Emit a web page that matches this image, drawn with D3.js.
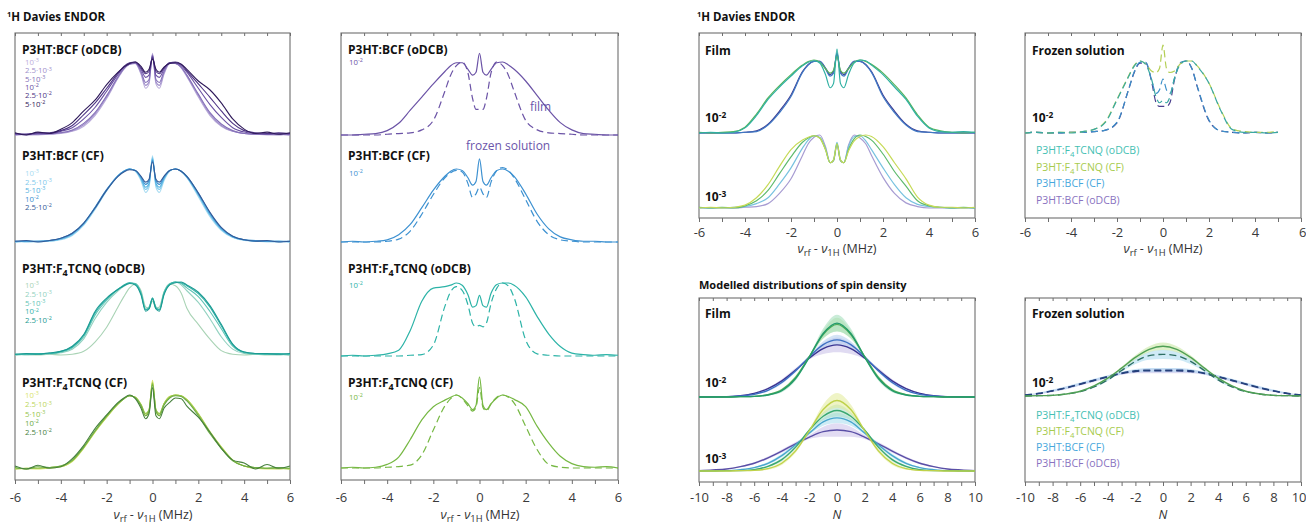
<!DOCTYPE html>
<html><head><meta charset="utf-8">
<script src="https://cdn.jsdelivr.net/npm/d3@7"></script>
<style>body{margin:0;background:#fff}svg{display:block}text{font-family:"Open Sans",sans-serif}</style>
</head><body><svg id="c" width="1306" height="525"></svg>
<script>
// ---------- DATA ----------
const xGrid = [-6,-5.5,-5,-4.5,-4,-3.5,-3,-2.5,-2,-1.5,-1.25,-1,-0.75,-0.5,-0.3,-0.15,0,0.15,0.3,0.5,0.75,1,1.25,1.5,2,2.5,3,3.5,4,4.5,5,5.5,6];
const nGrid = [-10,-9,-8,-7,-6,-5,-4,-3,-2,-1,0,1,2,3,4,5,6,7,8,9,10];
const concLabels = [["10","-3"],["2.5·10","-3"],["5·10","-3"],["10","-2"],["2.5·10","-2"],["5·10","-2"]];

// P3HT:BCF (oDCB), film, concentration series
const bcfO_1e3  = [0,0.01,0,0.01,0.02,0.05,0.12,0.27,0.50, 0.78,0.90,0.97,0.98,0.83,0.64,0.70,1.12,0.70,0.64,0.83,0.98,0.98,0.92,0.80, 0.52,0.27,0.12,0.05,0.02,0.01,0,0.01,0];
const bcfO_25e3 = [0.01,0,0.01,0.01,0.03,0.06,0.14,0.29,0.52, 0.79,0.91,0.97,0.98,0.85,0.68,0.73,1.10,0.73,0.68,0.85,0.98,0.98,0.93,0.81, 0.54,0.29,0.13,0.05,0.02,0.01,0.01,0,0.01];
const bcfO_5e3  = [0,0.01,0.01,0.02,0.03,0.07,0.16,0.31,0.54, 0.80,0.91,0.97,0.99,0.87,0.72,0.76,1.10,0.76,0.72,0.87,0.99,0.98,0.93,0.82, 0.56,0.31,0.15,0.06,0.02,0.01,0.01,0.01,0];
const bcfO_1e2  = [0.01,0.01,0.02,0.02,0.05,0.10,0.22,0.38,0.60, 0.83,0.93,0.98,0.99,0.90,0.79,0.82,1.08,0.82,0.79,0.90,0.99,0.99,0.95,0.86, 0.64,0.42,0.24,0.10,0.04,0.02,0.01,0.02,0.01];
const bcfO_25e2 = [0.02,0.01,0.03,0.03,0.06,0.13,0.28,0.44,0.64, 0.85,0.94,0.99,1.00,0.92,0.84,0.87,1.06,0.87,0.84,0.92,0.99,1.00,0.97,0.88, 0.70,0.52,0.33,0.16,0.06,0.03,0.02,0.03,0.02];
const bcfO_5e2  = [0.03,0,0.04,0.02,0.08,0.17,0.33,0.48,0.69, 0.86,0.93,0.98,1.00,0.94,0.86,0.90,1.04,0.90,0.86,0.93,0.98,0.99,0.97,0.90, 0.74,0.62,0.44,0.22,0.08,0.02,0.04,0.01,0.03];
// P3HT:BCF (CF)
const bcfC_1e3  = [0,0.01,0,0.01,0.03,0.09,0.23,0.45,0.70, 0.91,0.97,1.00,0.97,0.84,0.68,0.75,1.18,0.75,0.68,0.84,0.97,1.00,0.97,0.88, 0.62,0.35,0.16,0.06,0.02,0.01,0,0.01,0];
const bcfC_25e3 = [0.01,0,0.01,0.01,0.04,0.10,0.24,0.46,0.71, 0.91,0.97,1.00,0.98,0.86,0.72,0.78,1.16,0.78,0.72,0.86,0.98,1.00,0.97,0.89, 0.64,0.37,0.17,0.07,0.03,0.01,0.01,0,0.01];
const bcfC_5e3  = [0,0.01,0.01,0.02,0.04,0.11,0.25,0.47,0.71, 0.91,0.97,1.00,0.98,0.87,0.75,0.80,1.14,0.80,0.75,0.87,0.98,1.00,0.97,0.89, 0.65,0.38,0.18,0.07,0.03,0.01,0.01,0.01,0];
const bcfC_1e2  = [0.01,0.01,0.01,0.02,0.05,0.12,0.26,0.48,0.72, 0.91,0.97,1.00,0.98,0.89,0.79,0.84,1.12,0.84,0.79,0.89,0.98,1.00,0.97,0.90, 0.67,0.40,0.19,0.08,0.03,0.02,0.01,0.01,0.01];
const bcfC_25e2 = [0.01,0.02,0,0.02,0.05,0.12,0.26,0.47,0.71, 0.90,0.96,0.99,0.98,0.90,0.82,0.86,1.10,0.86,0.82,0.90,0.98,1.00,0.97,0.90, 0.67,0.41,0.20,0.08,0.03,0.01,0.02,0,0.01];
// P3HT:F4TCNQ (oDCB)
const f4O_1e3  = [0,0.01,0,0.01,0,0.01,0.05,0.18,0.38, 0.66,0.80,0.92,0.97,0.88,0.66,0.64,0.74,0.64,0.66,0.86,0.97,0.95,0.85,0.64, 0.42,0.22,0.06,0.01,0,0.01,0,0.01,0];
const f4O_25e3 = [0.01,0,0.01,0.01,0.03,0.08,0.22,0.50,0.72, 0.88,0.94,0.98,0.98,0.86,0.64,0.66,0.76,0.66,0.64,0.86,0.98,1.00,0.96,0.88, 0.72,0.50,0.25,0.08,0.02,0.01,0.01,0,0.01];
const f4O_5e3  = [0,0.01,0.01,0.02,0.04,0.10,0.25,0.55,0.75, 0.90,0.95,0.99,0.98,0.85,0.62,0.65,0.78,0.65,0.62,0.85,0.97,1.00,0.98,0.92, 0.80,0.60,0.36,0.12,0.03,0.01,0.01,0.01,0];
const f4O_1e2  = [0.01,0.01,0.02,0.02,0.05,0.11,0.27,0.58,0.77, 0.90,0.96,0.99,0.97,0.84,0.62,0.64,0.78,0.64,0.62,0.84,0.97,1.00,0.99,0.95, 0.84,0.66,0.40,0.14,0.04,0.02,0.01,0.02,0.01];
const f4O_25e2 = [0.01,0.02,0.01,0.03,0.05,0.12,0.28,0.60,0.78, 0.90,0.95,0.98,0.96,0.82,0.60,0.63,0.77,0.63,0.60,0.82,0.96,0.99,1.00,0.96, 0.86,0.68,0.42,0.15,0.04,0.02,0.02,0.01,0.02];
// P3HT:F4TCNQ (CF)
const f4C_1e3  = [0,0.01,0,0.01,0.03,0.10,0.28,0.50,0.70, 0.88,0.95,0.99,0.97,0.86,0.72,0.78,1.20,0.78,0.72,0.88,0.98,1.00,0.99,0.94, 0.74,0.50,0.30,0.12,0.04,0.01,0,0.01,0];
const f4C_25e3 = [0.01,0,0.01,0.02,0.03,0.11,0.29,0.51,0.70, 0.88,0.95,0.99,0.97,0.87,0.74,0.80,1.18,0.80,0.74,0.88,0.98,1.00,0.99,0.94, 0.75,0.51,0.30,0.12,0.04,0.01,0.01,0,0.01];
const f4C_5e3  = [0,0.01,0.01,0.02,0.04,0.11,0.29,0.51,0.71, 0.88,0.95,0.99,0.97,0.87,0.75,0.80,1.16,0.80,0.75,0.88,0.97,1.00,0.99,0.93, 0.74,0.50,0.29,0.12,0.04,0.02,0.01,0.01,0];
const f4C_1e2  = [0.02,0,0.03,0.02,0.04,0.12,0.30,0.52,0.72, 0.89,0.95,0.99,0.96,0.85,0.72,0.78,1.14,0.78,0.72,0.86,0.96,0.99,0.98,0.92, 0.72,0.48,0.28,0.11,0.04,0.02,0.01,0.02,0.01];
const f4C_25e2 = [0.04,0,0.05,0.01,0.03,0.14,0.32,0.55,0.73, 0.90,0.96,1.00,0.95,0.82,0.68,0.75,1.10,0.72,0.68,0.82,0.90,0.96,0.95,0.85, 0.70,0.50,0.28,0.12,0.08,0,0.06,0.01,0.04];

// Film vs frozen solution at 1e-2
const bcfO_film = [0,0,0.01,0.02,0.06,0.16,0.34,0.52,0.70, 0.87,0.95,0.99,0.99,0.90,0.82,0.86,1.12,0.86,0.82,0.90,0.99,1.00,0.96,0.90, 0.74,0.54,0.34,0.17,0.07,0.02,0.01,0,0];
const bcfO_froz = [0,0,0,0,0.01,0.02,0.03,0.07,0.20, 0.60,0.82,0.95,1.00,0.85,0.50,0.35,0.35,0.35,0.50,0.85,1.00,0.95,0.82,0.60, 0.20,0.07,0.03,0.02,0.01,0,0,0,0];
const bcfC_film = [0,0.01,0,0.01,0.03,0.10,0.24,0.47,0.71, 0.90,0.97,1.00,0.98,0.88,0.78,0.83,1.14,0.83,0.78,0.88,0.98,1.00,0.97,0.90, 0.66,0.38,0.18,0.07,0.03,0.01,0.01,0,0];
const bcfC_froz = [0,0,0,0,0.01,0.04,0.15,0.38,0.65, 0.88,0.95,0.98,0.96,0.80,0.61,0.66,0.75,0.66,0.61,0.82,0.98,1.02,0.98,0.88, 0.58,0.28,0.10,0.03,0.01,0,0,0,0];
const f4O_film  = [0,0.01,0,0.01,0.03,0.08,0.35,0.75,0.93, 0.95,0.97,1.00,0.97,0.84,0.67,0.69,0.83,0.69,0.67,0.86,0.98,1.00,1.00,0.97, 0.81,0.54,0.30,0.13,0.04,0.02,0.01,0.02,0.01];
const f4O_froz  = [0,0,0,0,0,0,0.01,0.02,0.15, 0.68,0.88,0.95,0.90,0.70,0.45,0.40,0.42,0.40,0.45,0.72,0.93,1.00,0.96,0.80, 0.22,0.03,0.01,0,0,0,0,0,0];
const f4C_film  = [0,0.01,0,0.01,0.05,0.15,0.39,0.66,0.84, 0.93,0.97,1.00,0.96,0.88,0.80,0.86,1.25,0.86,0.80,0.88,0.96,1.00,0.98,0.94, 0.84,0.57,0.34,0.16,0.06,0.02,0.01,0.02,0];
const f4C_froz  = [0,0,0,0,0.01,0.02,0.04,0.18,0.52, 0.85,0.95,1.00,0.95,0.85,0.78,0.83,1.10,0.83,0.78,0.88,0.97,1.00,0.97,0.89, 0.57,0.25,0.05,0.01,0,0,0,0,0];

// Right: film comparison, 1e-2 and 1e-3
const film2_F4O = [0,0.01,0,0.01,0.07,0.24,0.46,0.63,0.78, 0.92,0.97,0.99,0.96,0.80,0.62,0.68,1.15,0.68,0.62,0.80,0.96,1.00,0.99,0.93, 0.80,0.63,0.46,0.23,0.07,0.02,0.01,0.02,0.01];
const film2_F4C = [0.01,0,0.01,0.02,0.08,0.26,0.48,0.65,0.80, 0.93,0.98,1.00,0.97,0.88,0.82,0.86,1.05,0.86,0.82,0.88,0.97,1.00,0.98,0.94, 0.82,0.66,0.48,0.25,0.08,0.03,0.01,0,0.01];
const film2_BC  = [0,0,0,0,0.01,0.02,0.11,0.28,0.50, 0.83,0.93,0.98,0.98,0.88,0.78,0.82,1.10,0.82,0.78,0.88,0.98,0.98,0.93,0.83, 0.50,0.28,0.11,0.02,0.01,0,0,0,0];
const film2_BO  = [0,0,0,0,0.01,0.03,0.12,0.30,0.52, 0.84,0.94,0.98,0.98,0.89,0.80,0.84,1.08,0.84,0.80,0.89,0.98,0.98,0.94,0.84, 0.52,0.30,0.12,0.03,0.01,0,0,0,0];
const film3_F4C = [0,0.01,0,0.01,0.04,0.14,0.32,0.57,0.80, 0.93,0.97,0.99,0.96,0.80,0.62,0.66,0.88,0.66,0.62,0.78,0.92,0.98,1.00,0.98, 0.84,0.62,0.40,0.15,0.04,0.01,0.01,0,0.01];
const film3_F4O = [0.01,0,0.01,0,0.03,0.10,0.24,0.47,0.70, 0.90,0.96,0.99,0.96,0.80,0.62,0.65,0.88,0.65,0.62,0.80,0.95,1.00,0.98,0.93, 0.74,0.50,0.30,0.10,0.03,0.01,0,0.01,0];
const film3_BC  = [0,0,0,0.01,0.02,0.06,0.14,0.33,0.55, 0.82,0.93,0.99,0.97,0.82,0.62,0.66,0.90,0.66,0.62,0.84,0.98,0.99,0.92,0.80, 0.55,0.32,0.14,0.05,0.02,0.01,0,0,0];
const film3_BO  = [0,0,0,0,0.01,0.02,0.06,0.20,0.40, 0.72,0.88,0.97,1.00,0.84,0.62,0.65,0.86,0.65,0.62,0.86,1.00,0.96,0.88,0.72, 0.42,0.20,0.07,0.02,0,0,0,0,0];
// Right: frozen solution 1e-2 (recorded up to ~5 MHz)
const froz_F4O = [0,0.01,0,0.01,0,0.02,0.05,0.15,0.46, 0.78,0.93,1.00,0.95,0.75,0.50,0.42,0.45,0.42,0.50,0.76,0.95,1.00,1.00,0.92, 0.69,0.32,0.05,0.01,0.01,0,0.01];
const froz_F4C = [0,0.01,0,0.01,0.01,0.02,0.05,0.16,0.47, 0.79,0.94,1.00,0.96,0.86,0.84,0.90,1.22,0.90,0.84,0.86,0.96,1.00,1.00,0.93, 0.69,0.33,0.06,0.02,0.01,0.01,0.02];
const froz_BC  = [0,0.01,0,0,0.01,0.01,0.02,0.04,0.15, 0.60,0.85,0.98,0.98,0.74,0.55,0.60,0.75,0.60,0.55,0.76,0.98,1.00,0.90,0.64, 0.18,0.03,0.01,0,0.01,0,0.01];
const froz_BO  = [0,0.01,0,0,0.01,0.01,0.02,0.04,0.14, 0.60,0.84,0.97,0.97,0.72,0.42,0.37,0.37,0.37,0.42,0.74,0.97,1.00,0.90,0.63, 0.17,0.03,0.01,0,0.01,0,0.01];

// Modelled spin density, film 1e-2 (value, band half-width)
const m2_F4O = [0,0,0,0.001,0.002,0.006,0.019,0.055,0.119,0.189,0.220,0.189,0.119,0.055,0.019,0.006,0.002,0.001,0,0,0];
const m2_F4C = [0,0,0,0.001,0.002,0.007,0.021,0.058,0.121,0.186,0.216,0.186,0.121,0.058,0.021,0.007,0.002,0.001,0,0,0];
const m2_BC  = [0,0,0.001,0.003,0.008,0.020,0.043,0.078,0.120,0.156,0.170,0.156,0.120,0.078,0.043,0.020,0.008,0.003,0.001,0,0];
const m2_BO  = [0,0.001,0.001,0.004,0.011,0.025,0.048,0.080,0.116,0.144,0.155,0.144,0.116,0.080,0.048,0.025,0.011,0.004,0.001,0.001,0];
const b2_F4O = [0,0,0,0,0.001,0.002,0.005,0.007,0.004,0.015,0.025,0.015,0.004,0.007,0.005,0.002,0.001,0,0,0,0];
const b2_F4C = [0,0,0,0,0.001,0.002,0.004,0.006,0.003,0.012,0.020,0.012,0.003,0.006,0.004,0.002,0.001,0,0,0,0];
const b2_BC  = [0,0,0,0.001,0.002,0.003,0.004,0.004,0.003,0.010,0.015,0.010,0.003,0.004,0.004,0.003,0.002,0.001,0,0,0];
const b2_BO  = [0,0,0.001,0.001,0.002,0.003,0.005,0.006,0.004,0.016,0.022,0.016,0.004,0.006,0.005,0.003,0.002,0.001,0.001,0,0];
// film 1e-3
const m3_F4C = [0,0,0,0.001,0.002,0.007,0.023,0.060,0.120,0.183,0.210,0.183,0.120,0.060,0.023,0.007,0.002,0.001,0,0,0];
const m3_F4O = [0,0,0.001,0.001,0.004,0.014,0.034,0.071,0.122,0.163,0.180,0.163,0.122,0.071,0.034,0.014,0.004,0.001,0.001,0,0];
const m3_BC  = [0,0.001,0.001,0.004,0.010,0.023,0.046,0.078,0.113,0.146,0.158,0.146,0.113,0.078,0.046,0.023,0.010,0.004,0.001,0.001,0];
const m3_BO  = [0.001,0.003,0.006,0.013,0.023,0.039,0.059,0.081,0.101,0.117,0.122,0.117,0.101,0.081,0.059,0.039,0.023,0.013,0.006,0.003,0.001];
const b3_F4C = [0,0,0,0,0.001,0.003,0.005,0.006,0.004,0.015,0.022,0.015,0.004,0.006,0.005,0.003,0.001,0,0,0,0];
const b3_F4O = [0,0,0,0.001,0.002,0.003,0.005,0.005,0.004,0.012,0.018,0.012,0.004,0.005,0.005,0.003,0.002,0.001,0,0,0];
const b3_BC  = [0,0,0.001,0.001,0.002,0.004,0.005,0.005,0.004,0.011,0.015,0.011,0.004,0.005,0.005,0.004,0.002,0.001,0.001,0,0];
const b3_BO  = [0,0.001,0.001,0.002,0.003,0.004,0.005,0.005,0.006,0.015,0.020,0.015,0.006,0.005,0.005,0.004,0.003,0.002,0.001,0.001,0];
// frozen solution 1e-2
const mf_F4C = [0,0.001,0.002,0.006,0.014,0.030,0.053,0.083,0.115,0.139,0.148,0.139,0.115,0.083,0.053,0.030,0.014,0.006,0.002,0.001,0];
const mf_F4O = [0,0.001,0.002,0.006,0.013,0.027,0.048,0.076,0.103,0.120,0.124,0.120,0.103,0.076,0.048,0.027,0.013,0.006,0.002,0.001,0];
const mf_BC  = [0.003,0.008,0.016,0.025,0.036,0.047,0.058,0.068,0.075,0.077,0.077,0.077,0.075,0.068,0.058,0.047,0.036,0.025,0.016,0.008,0.003];
const mf_BO  = [0.002,0.007,0.015,0.024,0.035,0.046,0.057,0.067,0.073,0.075,0.075,0.075,0.073,0.067,0.057,0.046,0.035,0.024,0.015,0.007,0.002];
const bf_F4C = [0,0,0,0,0.001,0.002,0.003,0.004,0.006,0.009,0.011,0.009,0.006,0.004,0.003,0.002,0.001,0,0,0,0];
const bf_F4O = [0,0,0,0,0.001,0.002,0.003,0.004,0.008,0.012,0.014,0.012,0.008,0.004,0.003,0.002,0.001,0,0,0,0];
const bf_BC  = [0.001,0.002,0.003,0.004,0.004,0.004,0.004,0.004,0.005,0.006,0.006,0.006,0.005,0.004,0.004,0.004,0.004,0.004,0.003,0.002,0.001];
const bf_BO  = [0.001,0.002,0.003,0.004,0.004,0.004,0.004,0.004,0.005,0.007,0.007,0.007,0.005,0.004,0.004,0.004,0.004,0.004,0.003,0.002,0.001];

// ---------- DRAWING ----------
const svg = d3.select("#c");
const FRAME = "#6e6e6e";

function rich(g, x, y, parts, o = {}) {
  const t = g.append("text").attr("x", x).attr("y", y)
    .attr("font-size", o.size || 12).attr("font-weight", o.bold ? 700 : 400)
    .attr("fill", o.color || "#111").attr("text-anchor", o.anchor || "start");
  if (o.italic) t.attr("font-style", "italic");
  let shift = 0;
  const supShift = o.supShift || -4.5;
  parts.forEach(p => {
    const s = typeof p === "string" ? { t: p } : p;
    const target = s.sub ? 3 : s.sup ? supShift : 0;
    const ts = t.append("tspan").text(s.t).attr("dy", target - shift);
    shift = target;
    if (s.sub || s.sup) ts.attr("font-size", (o.size || 12) * (s.scale || 0.68));
    if (s.it) ts.attr("font-style", "italic");
  });
  return t;
}

function frame(x0, x1, y0, y1, dom, labelStep, pad) {
  const x = d3.scaleLinear().domain(dom).range([x0, x1]);
  const g = svg.append("g");
  const all = d3.range(dom[0], dom[1] + 0.001, 1);
  const fmt = d => (Math.round(d) % labelStep === 0) ? (d < 0 ? "-" + Math.abs(d) : String(d)) : "";
  const bot = g.append("g").attr("transform", `translate(0,${y1})`)
    .call(d3.axisBottom(x).tickValues(all).tickSize(4).tickPadding(pad).tickFormat(fmt));
  bot.select(".domain").remove();
  bot.selectAll("line").attr("stroke", FRAME);
  bot.selectAll("text").attr("font-size", 13).attr("fill", "#3a3a3a").attr("font-family", '"Open Sans",sans-serif');
  // keep the last label inside the page
  bot.selectAll("text").filter(d => x(d) + 9 > 1306).attr("text-anchor", "end").attr("dx", 5);
  const top = g.append("g").attr("transform", `translate(0,${y0})`)
    .call(d3.axisBottom(x).tickValues(all).tickSize(3).tickFormat(""));
  top.select(".domain").remove();
  top.selectAll("line").attr("stroke", FRAME);
  g.append("rect").attr("x", x0).attr("y", y0).attr("width", x1 - x0).attr("height", y1 - y0)
    .attr("fill", "none").attr("stroke", FRAME).attr("stroke-width", 1.1);
  return x;
}

function spectrum(x, base, h, vals, color, o = {}) {
  const y = d3.scaleLinear().domain([0, 1]).range([base, base - h]);
  const pts = vals.map((v, i) => [xGrid[i], v]);
  const line = d3.line().x(d => x(d[0])).y(d => y(d[1])).curve(d3.curveMonotoneX);
  const p = svg.append("path").datum(pts).attr("d", line).attr("fill", "none")
    .attr("stroke", color).attr("stroke-width", o.w || 1.2).attr("stroke-linejoin", "round");
  if (o.dash) p.attr("stroke-dasharray", o.dash);
}

function density(x, y, vals, band, color, bandColor, o = {}) {
  const pts = vals.map((v, i) => [nGrid[i], v, band[i]]);
  const area = d3.area().x(d => x(d[0])).y0(d => y(d[1] - d[2])).y1(d => y(d[1] + d[2])).curve(d3.curveMonotoneX);
  svg.append("path").datum(pts).attr("d", area).attr("fill", bandColor).attr("opacity", o.op || 0.55);
  return () => {
    const line = d3.line().x(d => x(d[0])).y(d => y(d[1])).curve(d3.curveMonotoneX);
    const p = svg.append("path").datum(pts).attr("d", line).attr("fill", "none")
      .attr("stroke", color).attr("stroke-width", o.w || 1.4);
    if (o.dash) p.attr("stroke-dasharray", o.dash);
  };
}

function concLegend(x, y0, step, colors, n) {
  const g = svg.append("g");
  for (let i = 0; i < n; i++) {
    rich(g, x, y0 + i * step, [concLabels[i][0], { t: concLabels[i][1], sup: true, scale: 0.7 }], { size: 7.8, color: colors[i], supShift: -2.8 });
  }
}

function endorXTitle(cx, y) {
  rich(svg, cx, y, [{ t: "ν", it: true }, { t: "rf", sub: true, scale: 0.75 }, { t: " - " }, { t: "ν", it: true }, { t: "1H", sub: true, scale: 0.75 }, { t: " (MHz)" }],
    { size: 12.5, color: "#333", anchor: "middle" });
}

const F4 = (rest) => ["P3HT:F", { t: "4", sub: true, scale: 0.75 }, rest];
const sup = (b, e) => [b, { t: e, sup: true, scale: 0.7 }];

// Titles
rich(svg, 7, 21, ["", { t: "1", sup: true, scale: 0.65 }, "H Davies ENDOR"], { size: 11.5, bold: true });
rich(svg, 697, 21, ["", { t: "1", sup: true, scale: 0.65 }, "H Davies ENDOR"], { size: 11.5, bold: true });
rich(svg, 699, 289, ["Modelled distributions of spin density"], { size: 11, bold: true });

// ---- Column 1: concentration series ----
const purples = ["#bcaedb", "#a08fcb", "#8570b8", "#6a50a2", "#4d3384", "#2f1a5a"];
const blues   = ["#a9dcf2", "#7fc9ec", "#55b3e2", "#3a8fcf", "#345a98"];
const teals   = ["#a9d3b5", "#93d2c0", "#5fc4b6", "#33b3a9", "#1b9a92"];
const greens  = ["#d9e46c", "#bcd65c", "#95c54d", "#6bab45", "#46803d"];
const x1 = frame(15, 290, 33, 480, [-6, 6], 2, 9);
[bcfO_1e3, bcfO_25e3, bcfO_5e3, bcfO_1e2, bcfO_25e2, bcfO_5e2].forEach((d, i) => spectrum(x1, 135, 73, d, purples[i], { w: 1.1 }));
[bcfC_1e3, bcfC_25e3, bcfC_5e3, bcfC_1e2, bcfC_25e2].forEach((d, i) => spectrum(x1, 242, 73, d, blues[i], { w: 1.1 }));
[f4O_1e3, f4O_25e3, f4O_5e3, f4O_1e2, f4O_25e2].forEach((d, i) => spectrum(x1, 355, 73, d, teals[i], { w: 1.1 }));
[f4C_1e3, f4C_25e3, f4C_5e3, f4C_1e2, f4C_25e2].forEach((d, i) => spectrum(x1, 469, 74, d, greens[i], { w: 1.1 }));
rich(svg, 22, 54, ["P3HT:BCF (oDCB)"], { size: 12, bold: true });
rich(svg, 22, 160, ["P3HT:BCF (CF)"], { size: 12, bold: true });
rich(svg, 22, 273, F4("TCNQ (oDCB)"), { size: 12, bold: true });
rich(svg, 22, 387, F4("TCNQ (CF)"), { size: 12, bold: true });
concLegend(25, 65, 8.3, purples, 6);
concLegend(25, 176, 8.5, blues, 5);
concLegend(25, 288, 8.8, teals, 5);
concLegend(25, 398, 9.3, greens, 5);
endorXTitle(153, 519);

// ---- Column 2: film vs frozen ----
const c2 = { p: "#6b53a6", b: "#3d91d1", t: "#2cb3a7", g: "#76b843" };
const x2 = frame(341, 618, 33, 480, [-6, 6], 2, 9);
spectrum(x2, 135, 73, bcfO_froz, c2.p, { dash: "7,4" });
spectrum(x2, 135, 73, bcfO_film, c2.p);
spectrum(x2, 242, 73, bcfC_froz, c2.b, { dash: "7,4" });
spectrum(x2, 242, 73, bcfC_film, c2.b);
spectrum(x2, 356, 73, f4O_froz, c2.t, { dash: "7,4" });
spectrum(x2, 356, 73, f4O_film, c2.t);
spectrum(x2, 468, 73, f4C_froz, c2.g, { dash: "7,4" });
spectrum(x2, 468, 73, f4C_film, c2.g);
rich(svg, 348, 54, ["P3HT:BCF (oDCB)"], { size: 12, bold: true });
rich(svg, 348, 160, ["P3HT:BCF (CF)"], { size: 12, bold: true });
rich(svg, 348, 273, F4("TCNQ (oDCB)"), { size: 12, bold: true });
rich(svg, 348, 387, F4("TCNQ (CF)"), { size: 12, bold: true });
[[65, c2.p], [176, c2.b], [288, c2.t], [400, c2.g]].forEach(([y, c]) => rich(svg, 349, y, sup("10", "-2"), { size: 7.8, color: c, supShift: -2.8 }));
rich(svg, 530, 111, ["film"], { size: 12, color: "#6b55aa" });
rich(svg, 466, 150, ["frozen solution"], { size: 12, color: "#6b55aa" });
endorXTitle(480, 519);

// ---- Right top: Film ENDOR ----
const x3 = frame(699, 975, 33, 218, [-6, 6], 2, 6);
spectrum(x3, 133, 73, film2_BO, "#3d3a90");
spectrum(x3, 133, 73, film2_BC, "#3f78c4");
spectrum(x3, 133, 73, film2_F4C, "#58b45a");
spectrum(x3, 133, 73, film2_F4O, "#2fb0a2");
spectrum(x3, 208, 73, film3_BO, "#a79cd2");
spectrum(x3, 208, 73, film3_BC, "#78c2e0");
spectrum(x3, 208, 73, film3_F4O, "#5dba6c");
spectrum(x3, 208, 73, film3_F4C, "#c6da56");
rich(svg, 705, 55, ["Film"], { size: 12, bold: true });
rich(svg, 705, 122, sup("10", "-2"), { size: 12, bold: true });
rich(svg, 705, 201, sup("10", "-3"), { size: 12, bold: true });
endorXTitle(837, 253);

// ---- Right top: Frozen solution ENDOR ----
const x4 = frame(1025, 1301, 33, 218, [-6, 6], 2, 6);
[[froz_BO, "#4a3f8e"], [froz_BC, "#3b8fc9"], [froz_F4C, "#b4cf55"], [froz_F4O, "#3aa8a2"]].forEach(([d, c]) =>
  spectrum(x4, 133, 72, d, c, { dash: "7,4" }));
rich(svg, 1032, 55, ["Frozen solution"], { size: 12, bold: true });
rich(svg, 1032, 122, sup("10", "-2"), { size: 12, bold: true });
const legendR = [[F4("TCNQ (oDCB)"), "#45bfb3"], [F4("TCNQ (CF)"), "#a7cb4e"], [["P3HT:BCF (CF)"], "#47a7dc"], [["P3HT:BCF (oDCB)"], "#8a73bf"]];
legendR.forEach(([p, c], i) => rich(svg, 1036, 154 + i * 16.6, p, { size: 10.5, color: c }));
endorXTitle(1163, 253);

// ---- Right bottom: Modelled, film ----
const x5 = frame(699, 975, 298, 482, [-10, 10], 2, 7);
const yU = d3.scaleLinear().domain([0, 0.28]).range([397, 397 - 0.28 * 336]);
const yL = d3.scaleLinear().domain([0, 0.28]).range([471, 471 - 0.28 * 336]);
const lines5 = [
  density(x5, yL, m3_BO, b3_BO, "#5a4fa6", "#cbbfea"),
  density(x5, yL, m3_BC, b3_BC, "#48a6cc", "#a8dcef"),
  density(x5, yL, m3_F4O, b3_F4O, "#3aa870", "#aadfc2"),
  density(x5, yL, m3_F4C, b3_F4C, "#bfd24a", "#e1eb98"),
  density(x5, yU, m2_BO, b2_BO, "#3b3592", "#c7bde8"),
  density(x5, yU, m2_BC, b2_BC, "#3c6fc2", "#b2cdef"),
  density(x5, yU, m2_F4C, b2_F4C, "#52ae56", "#bfe3a6"),
  density(x5, yU, m2_F4O, b2_F4O, "#239a6c", "#9fdcb8"),
];
lines5.forEach(f => f());
rich(svg, 705, 318, ["Film"], { size: 12, bold: true });
rich(svg, 705, 387, sup("10", "-2"), { size: 12, bold: true });
rich(svg, 705, 463, sup("10", "-3"), { size: 12, bold: true });
rich(svg, 837, 519, ["N"], { size: 12.5, color: "#333", anchor: "middle", italic: true });

// ---- Right bottom: Modelled, frozen ----
const x6 = frame(1025, 1301, 298, 482, [-10, 10], 2, 7);
const yF = d3.scaleLinear().domain([0, 0.28]).range([396, 396 - 0.28 * 336]);
const lines6 = [
  density(x6, yF, mf_BO, bf_BO, "#2b3274", "#cbbfea", { dash: "7,4" }),
  density(x6, yF, mf_BC, bf_BC, "#24457e", "#a6d3f0", { dash: "7,4" }),
  density(x6, yF, mf_F4O, bf_F4O, "#2d6f63", "#a8d8ee", { dash: "7,4" }),
  density(x6, yF, mf_F4C, bf_F4C, "#4f9f55", "#c5e59c"),
];
lines6.forEach(f => f());
rich(svg, 1032, 318, ["Frozen solution"], { size: 12, bold: true });
rich(svg, 1032, 387, sup("10", "-2"), { size: 12, bold: true });
legendR.forEach(([p, c], i) => rich(svg, 1036, 419 + i * 16, p, { size: 10.5, color: c }));
rich(svg, 1163, 519, ["N"], { size: 12.5, color: "#333", anchor: "middle", italic: true });
</script>
</body></html>
